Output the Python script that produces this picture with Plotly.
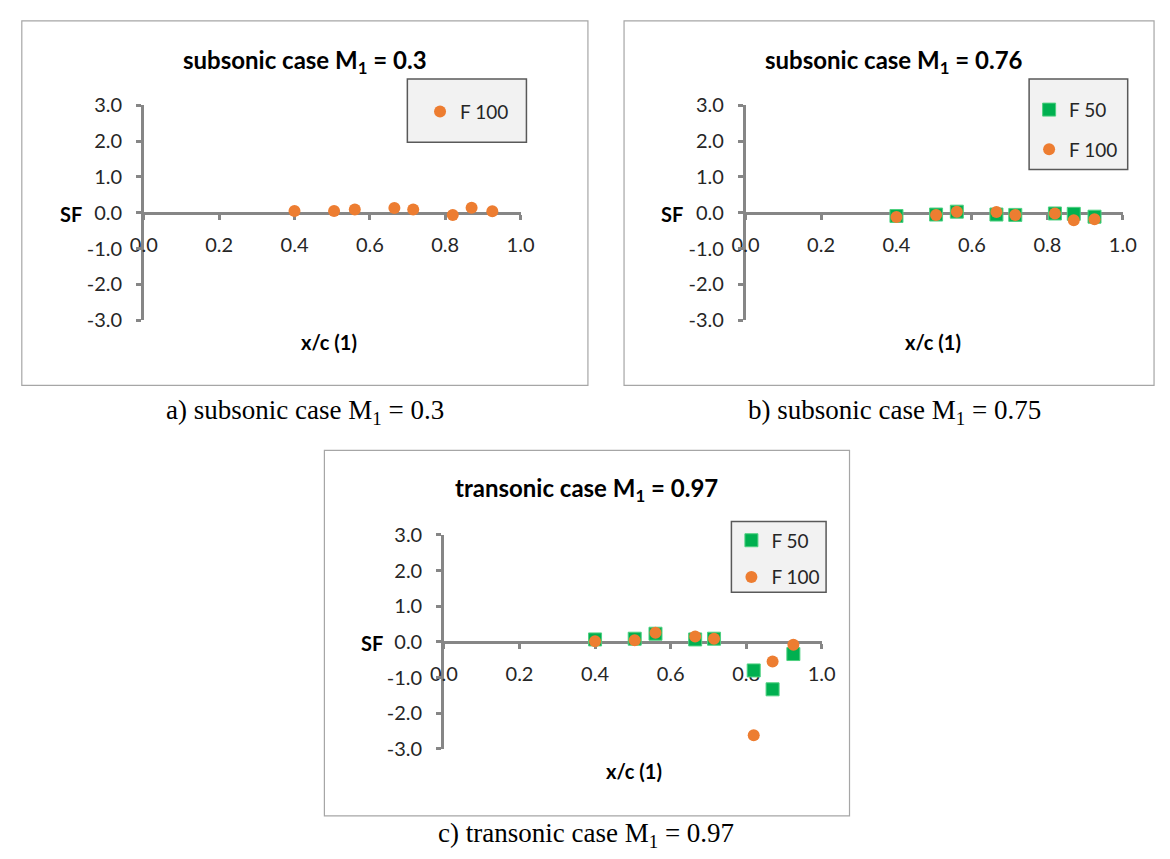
import plotly.graph_objects as go

W, H = 1170, 859

# ---------------- data ----------------
x_pos = [0.40, 0.505, 0.56, 0.665, 0.715, 0.82, 0.87, 0.925]

a_f100 = [0.05, 0.05, 0.09, 0.13, 0.09, -0.06, 0.14, 0.04]

b_f50 = [-0.09, -0.05, 0.03, -0.05, -0.06, -0.02, -0.03, -0.11]
b_f100 = [-0.12, -0.06, 0.03, 0.02, -0.06, -0.02, -0.21, -0.18]

c_f50 = [0.07, 0.09, 0.23, 0.07, 0.09, -0.80, -1.33, -0.34]
c_f100 = [0.02, 0.05, 0.26, 0.15, 0.09, -2.62, -0.55, -0.08]

x_tickvals = [0.0, 0.2, 0.4, 0.6, 0.8, 1.0]
x_ticktext = ["0.0", "0.2", "0.4", "0.6", "0.8", "1.0"]
y_tickvals = [-3, -2, -1, 0, 1, 2, 3]
y_ticktext = ["-3.0", "-2.0", "-1.0", "0.0", "1.0", "2.0", "3.0"]

titles = ["subsonic case M<sub>1</sub> = 0.3",
          "subsonic case M<sub>1</sub> = 0.76",
          "transonic case M<sub>1</sub> = 0.97"]
captions = ["a) subsonic case M<sub>1</sub> = 0.3",
            "b) subsonic case M<sub>1</sub> = 0.75",
            "c) transonic case M<sub>1</sub> = 0.97"]
y_label = "SF"
x_label = "x/c (1)"

# ---------------- style ----------------
ORANGE = "#ED7D31"
GREEN = "#00B050"
AXIS = "#868686"
TXT = "#262626"
FONT = "Lato"
SERIF = "Liberation Serif"
TICK_SIZE = 20
TITLE_SIZE = 24
LABEL_SIZE = 20
LEG_SIZE = 19
CAP_SIZE = 27


def px(x):
    return x / W


def py(y):
    return 1 - y / H


# panel geometry (pixels)
panels = [
    dict(frame=(8, 8, 588, 383), xd=(133, 519), yd=(95, 316), title=(298, 50),
         cap=(298, 410), sf=(58, 207), xl=(323, 338),
         leg=(403, 68, 525, 133), legx=13, legtop=14, gap=0),
    dict(frame=(625, 8, 1168, 383), xd=(749.5, 1136), yd=(95, 316), title=(902, 50),
         cap=(902, 410), sf=(674, 207), xl=(942, 338),
         leg=(1040, 68, 1141, 161), legx=0, legtop=12, gap=12),
    dict(frame=(318, 450, 856, 826), xd=(440.5, 827.5), yd=(537, 757), title=(587, 490),
         cap=(586, 846), sf=(367, 648), xl=(635, 780),
         leg=(735, 523, 832, 596), legx=0, legtop=0, gap=9),
]

fig = go.Figure()

series = [
    [("F 100", "circle", ORANGE, a_f100)],
    [("F 50", "square", GREEN, b_f50), ("F 100", "circle", ORANGE, b_f100)],
    [("F 50", "square", GREEN, c_f50), ("F 100", "circle", ORANGE, c_f100)],
]

for i, (p, sers) in enumerate(zip(panels, series)):
    suf = "" if i == 0 else str(i + 1)
    leg = "legend" if i == 0 else "legend" + str(i + 1)
    for name, sym, col, vals in sers:
        is_sq = sym == "square"
        fig.add_trace(go.Scatter(
            x=x_pos, y=vals, mode="markers", name=name,
            xaxis="x" + suf, yaxis="y" + suf, legend=leg,
            legendgroup=name + suf,
            marker=dict(symbol=sym, color=col, size=13 if is_sq else 12,
                        line=dict(width=1 if is_sq else 0,
                                  color="#4FD080" if is_sq else col)),
            showlegend=True,
        ))

    x0, x1 = p["xd"]
    y0, y1 = p["yd"]
    ymid = (py(y0) + py(y1)) / 2
    common = dict(showgrid=False, zeroline=False, showline=True,
                  linecolor=AXIS, linewidth=2.5, ticks="outside",
                  ticklen=5, tickwidth=2.5, tickcolor=AXIS,
                  layer="below traces",
                  tickfont=dict(family=FONT, size=TICK_SIZE, color=TXT))
    fig.layout["xaxis" + suf] = dict(
        domain=[px(x0), px(x1)], range=[0, 1], anchor="free", position=ymid,
        tickvals=x_tickvals, ticktext=x_ticktext, ticklabelstandoff=8,
        **common)
    fig.layout["yaxis" + suf] = dict(
        domain=[py(y1), py(y0)], range=[-3, 3], anchor="x" + suf,
        tickvals=y_tickvals, ticktext=y_ticktext, ticklabelstandoff=10,
        **common)

    # legend box
    lx0, ly0, lx1, ly1 = p["leg"]
    fig.add_shape(type="rect", xref="paper", yref="paper",
                  x0=px(lx0), x1=px(lx1), y0=py(ly1), y1=py(ly0),
                  fillcolor="#F2F2F2", line=dict(color="#595959", width=1.5),
                  layer="below")
    fig.layout[leg] = dict(
        x=px(lx0 + p["legx"]), y=py(ly0 + p["legtop"]),
        xanchor="left", yanchor="top",
        bgcolor="rgba(0,0,0,0)", borderwidth=0,
        font=dict(family=FONT, size=LEG_SIZE, color=TXT),
        tracegroupgap=p["gap"], traceorder="grouped", itemclick=False)

    # frame
    fx0, fy0, fx1, fy1 = p["frame"]
    fig.add_shape(type="rect", xref="paper", yref="paper",
                  x0=px(fx0), x1=px(fx1), y0=py(fy1), y1=py(fy0),
                  line=dict(color="#A6A6A6", width=1.2), layer="below")

    # texts
    tx, ty = p["title"]
    fig.add_annotation(x=px(tx), y=py(ty), xref="paper", yref="paper",
                       text="<b>" + titles[i] + "</b>", showarrow=False,
                       font=dict(family=FONT, size=TITLE_SIZE, color="#000000"),
                       xanchor="center", yanchor="middle")
    cx, cy = p["cap"]
    fig.add_annotation(x=px(cx), y=py(cy), xref="paper", yref="paper",
                       text=captions[i], showarrow=False,
                       font=dict(family=SERIF, size=CAP_SIZE, color="#000000"),
                       xanchor="center", yanchor="middle")
    sx, sy = p["sf"]
    fig.add_annotation(x=px(sx), y=py(sy), xref="paper", yref="paper",
                       text="<b>" + y_label + "</b>", showarrow=False,
                       font=dict(family=FONT, size=LABEL_SIZE, color="#000000"),
                       xanchor="center", yanchor="middle")
    xx, xy = p["xl"]
    fig.add_annotation(x=px(xx), y=py(xy), xref="paper", yref="paper",
                       text="<b>" + x_label + "</b>", showarrow=False,
                       font=dict(family=FONT, size=LABEL_SIZE, color="#000000"),
                       xanchor="center", yanchor="middle")

fig.update_layout(width=W, height=H, autosize=False,
                  margin=dict(l=0, r=0, t=0, b=0),
                  paper_bgcolor="white", plot_bgcolor="rgba(0,0,0,0)")

# remove the default page margin so the 1170x859 figure fills the window
fig.write_html("out.html", config={"displayModeBar": False},
               post_script="document.body.style.margin='0';"
                           "document.documentElement.style.overflow='hidden';")
